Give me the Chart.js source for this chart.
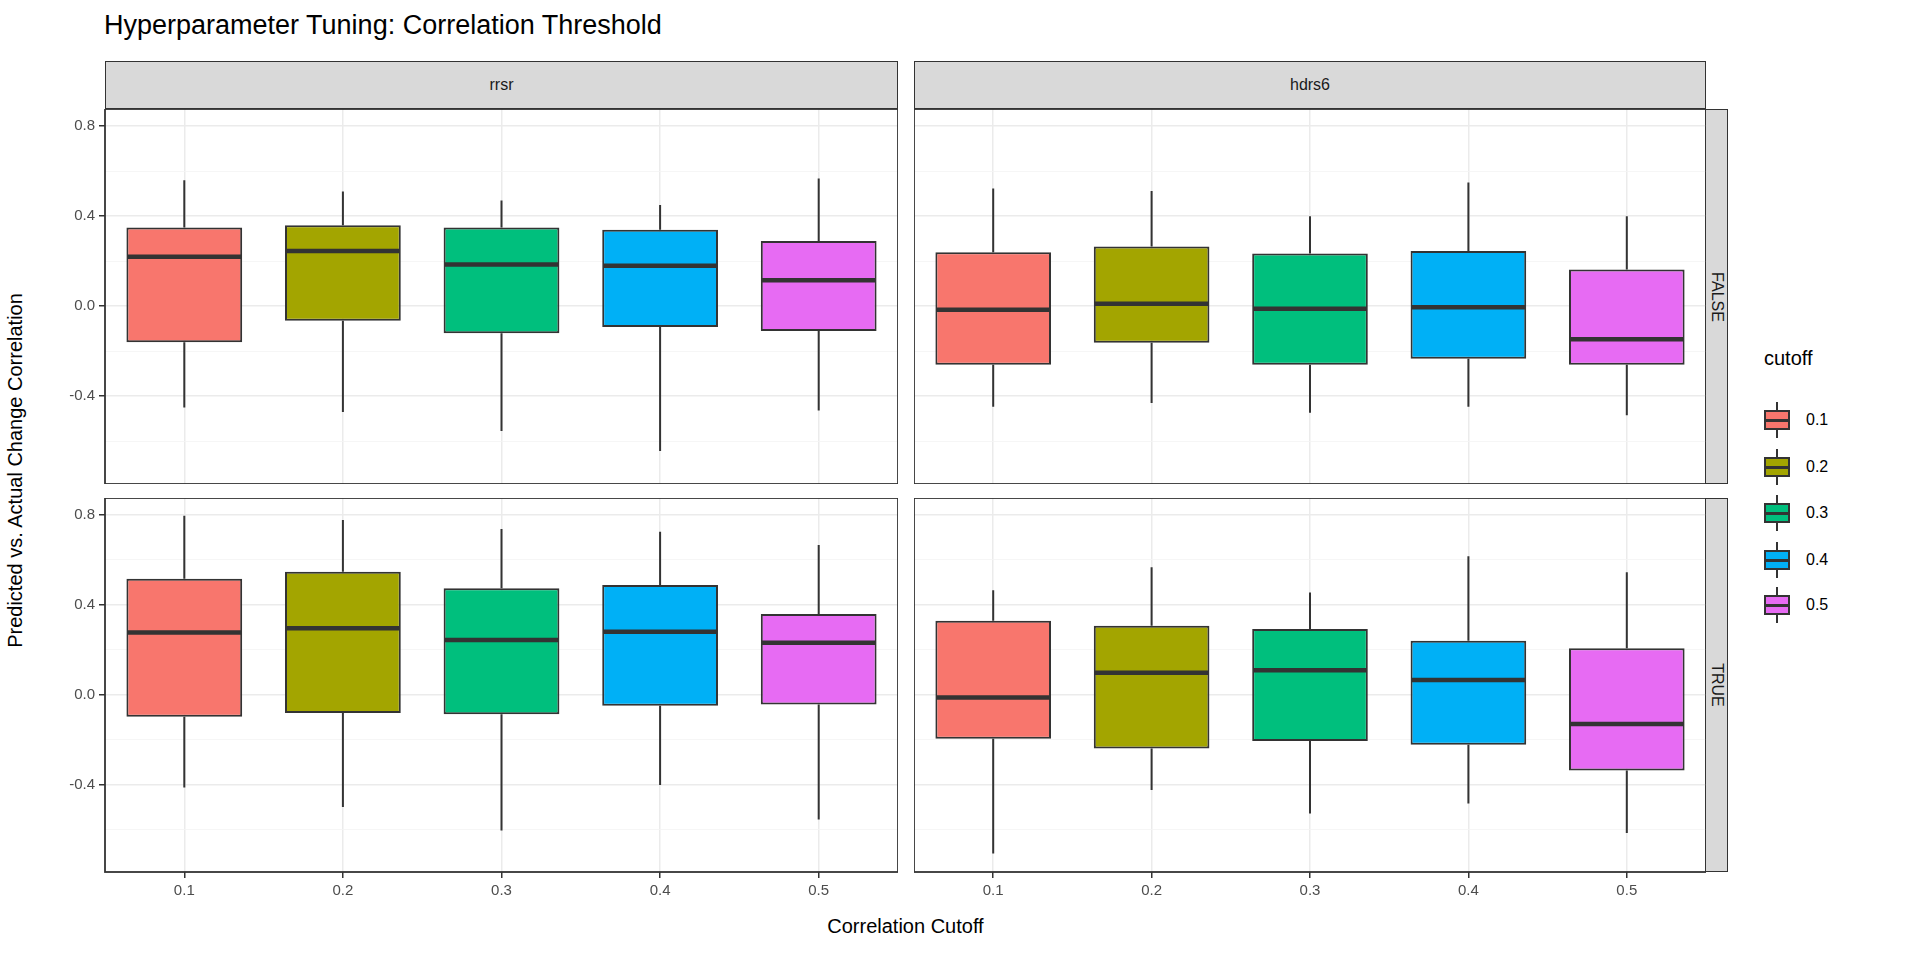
<!DOCTYPE html>
<html>
<head>
<meta charset="utf-8">
<script src="https://cdn.jsdelivr.net/npm/chart.js@4.4.1/dist/chart.umd.min.js"></script>
<style>
  body { margin: 0; width: 1920px; height: 960px; background: #fff; font-family: "Liberation Sans", Arial, sans-serif; position: relative; overflow: hidden; }
  .abs { position: absolute; }
  .strip { position: absolute; background: #d9d9d9; border: 1.5px solid #333; box-sizing: border-box; color: #1a1a1a; font-size: 16px; display: flex; align-items: center; justify-content: center; }
  .vtext { transform: rotate(90deg); white-space: nowrap; }
  .key { position: absolute; left: 1764px; width: 26px; height: 36px; }
  .keylab { position: absolute; left: 1806px; font-size: 16px; color: #000; }
</style>
</head>
<body>
<div class="abs" style="left:104px; top:10px; font-size:27px; color:#000;">Hyperparameter Tuning: Correlation Threshold</div>

<div class="strip" style="left:105px; top:61px; width:793px; height:48px;">rrsr</div>
<div class="strip" style="left:914px; top:61px; width:792px; height:48px;">hdrs6</div>
<div class="strip" style="left:1705px; top:109px; width:23px; height:375px;"><span class="vtext">FALSE</span></div>
<div class="strip" style="left:1705px; top:498px; width:23px; height:374px;"><span class="vtext">TRUE</span></div>

<div class="abs" style="left:0; top:0; width:30px; height:960px; display:flex; align-items:center; justify-content:center;">
  <span style="transform:rotate(-90deg); white-space:nowrap; font-size:20px; position:relative; top:-10px;">Predicted vs. Actual Change Correlation</span>
</div>
<div class="abs" style="left:105px; width:1601px; top:915px; text-align:center; font-size:20px;">Correlation Cutoff</div>

<div class="abs" style="left:40px; top:109px;"><canvas id="c00" width="858" height="375"></canvas></div>
<div class="abs" style="left:914px; top:109px;"><canvas id="c01" width="792" height="375"></canvas></div>
<div class="abs" style="left:40px; top:498px;"><canvas id="c10" width="858" height="414"></canvas></div>
<div class="abs" style="left:914px; top:498px;"><canvas id="c11" width="792" height="414"></canvas></div>

<div class="abs" style="left:1764px; top:347px; font-size:20px;">cutoff</div>
<div id="legend"></div>

<script>
const cutoffs = ['0.1', '0.2', '0.3', '0.4', '0.5']
const colors = ['#F8766D', '#A3A500', '#00BF7D', '#00B0F6', '#E76BF3']

// [low whisker, q1, median, q3, high whisker] per cutoff
const rrsrFalse = [
    [-0.45, -0.16, 0.22, 0.35, 0.56],
    [-0.47, -0.065, 0.245, 0.36, 0.51],
    [-0.555, -0.12, 0.185, 0.35, 0.47],
    [-0.643, -0.093, 0.18, 0.34, 0.45],
    [-0.463, -0.11, 0.115, 0.29, 0.567]
]
const hdrsFalse = [
    [-0.447, -0.26, -0.016, 0.24, 0.523],
    [-0.43, -0.163, 0.011, 0.265, 0.512],
    [-0.474, -0.26, -0.011, 0.234, 0.40],
    [-0.447, -0.234, -0.005, 0.245, 0.55],
    [-0.485, -0.26, -0.147, 0.163, 0.40]
]
const rrsrTrue = [
    [-0.414, -0.098, 0.277, 0.516, 0.797],
    [-0.50, -0.082, 0.296, 0.548, 0.778],
    [-0.605, -0.087, 0.244, 0.474, 0.738],
    [-0.403, -0.049, 0.28, 0.489, 0.726],
    [-0.556, -0.044, 0.231, 0.359, 0.667]
]
const hdrsTrue = [
    [-0.708, -0.196, -0.013, 0.329, 0.465],
    [-0.425, -0.24, 0.098, 0.307, 0.567],
    [-0.529, -0.207, 0.109, 0.292, 0.455],
    [-0.485, -0.223, 0.065, 0.24, 0.616],
    [-0.616, -0.338, -0.131, 0.207, 0.545]
]

const Y_MIN = -0.79
const Y_MAX = 0.876

// whiskers, medians and panel border drawn through the chart's scales
const boxPlugin = {
    id: 'boxParts',
    beforeDatasetsDraw(chart) {
        const { ctx, scales: { x, y } } = chart
        const stats = chart.config.options.plugins.boxParts.stats
        ctx.save()
        ctx.strokeStyle = '#333'
        ctx.lineWidth = 2
        stats.forEach((s, i) => {
            const px = x.getPixelForValue(i)
            ctx.beginPath()
            ctx.moveTo(px, y.getPixelForValue(s[0]))
            ctx.lineTo(px, y.getPixelForValue(s[1]))
            ctx.moveTo(px, y.getPixelForValue(s[3]))
            ctx.lineTo(px, y.getPixelForValue(s[4]))
            ctx.stroke()
        })
        ctx.restore()
    },
    afterDatasetsDraw(chart) {
        const { ctx, scales: { x, y }, chartArea: a } = chart
        const stats = chart.config.options.plugins.boxParts.stats
        const half = x.width / stats.length * 0.73 / 2
        ctx.save()
        ctx.strokeStyle = '#333'
        ctx.lineWidth = 4.5
        stats.forEach((s, i) => {
            const px = x.getPixelForValue(i)
            const py = y.getPixelForValue(s[2])
            ctx.beginPath()
            ctx.moveTo(px - half + 1, py)
            ctx.lineTo(px + half - 1, py)
            ctx.stroke()
        })
        ctx.lineWidth = 1.8
        ctx.strokeRect(a.left, a.top, a.right - a.left, a.bottom - a.top)
        ctx.restore()
    }
}

function makePanel(id, stats, showY, showX) {
    new Chart(document.getElementById(id), {
        type: 'bar',
        data: {
            labels: cutoffs,
            datasets: [{
                data: stats.map(s => [s[1], s[3]]),
                backgroundColor: colors,
                borderColor: '#333',
                borderWidth: 2,
                borderSkipped: false,
                barPercentage: 0.73,
                categoryPercentage: 1
            }]
        },
        plugins: [boxPlugin],
        options: {
            responsive: false,
            animation: false,
            layout: { padding: 0 },
            plugins: {
                legend: { display: false },
                tooltip: { enabled: false },
                boxParts: { stats }
            },
            scales: {
                x: {
                    grid: { offset: false, color: '#ebebeb', lineWidth: 1.5, tickColor: '#333', tickLength: 6, drawTicks: showX },
                    border: { display: false },
                    ticks: { display: showX, color: '#4d4d4d', font: { size: 15, family: 'Liberation Sans' }, padding: 4 },
                    afterFit: s => { s.height = showX ? 40 : 0; s.paddingLeft = 0; s.paddingRight = 0 }
                },
                y: {
                    display: true,
                    min: Y_MIN,
                    max: Y_MAX,
                    grid: {
                        color: c => Math.abs(Math.round(c.tick.value * 10)) % 4 === 0 ? '#ebebeb' : '#f4f4f4',
                        lineWidth: c => Math.abs(Math.round(c.tick.value * 10)) % 4 === 0 ? 1.5 : 0.8,
                        tickColor: c => Math.abs(Math.round(c.tick.value * 10)) % 4 === 0 ? '#333' : 'rgba(0,0,0,0)',
                        tickLength: 6,
                        drawTicks: showY
                    },
                    border: { display: false },
                    ticks: {
                        display: showY,
                        stepSize: 0.2,
                        includeBounds: false,
                        color: '#4d4d4d',
                        font: { size: 15, family: 'Liberation Sans' },
                        padding: 4,
                        callback: v => Math.abs(Math.round(v * 10)) % 4 === 0 ? v.toFixed(1) : ''
                    },
                    afterFit: s => { s.width = showY ? 65 : 0; s.paddingTop = 0; s.paddingBottom = 0 }
                }
            }
        }
    })
}

makePanel('c00', rrsrFalse, true, false)
makePanel('c01', hdrsFalse, false, false)
makePanel('c10', rrsrTrue, true, true)
makePanel('c11', hdrsTrue, false, true)

// legend keys
const keyTops = [402, 449, 495, 542, 587]
const legend = document.getElementById('legend')
cutoffs.forEach((c, i) => {
    const key = document.createElement('div')
    key.className = 'key'
    key.style.top = keyTops[i] + 'px'
    key.innerHTML = `<div style="position:absolute;left:12px;top:0;width:2px;height:36px;background:#333"></div>
      <div style="position:absolute;left:0;top:8px;width:26px;height:20px;box-sizing:border-box;border:2px solid #333;background:${colors[i]}"></div>
      <div style="position:absolute;left:0;top:16.5px;width:26px;height:3px;background:#333"></div>`
    legend.appendChild(key)
    const lab = document.createElement('div')
    lab.className = 'keylab'
    lab.style.top = (keyTops[i] + 9) + 'px'
    lab.textContent = c
    legend.appendChild(lab)
})
</script>
</body>
</html>
